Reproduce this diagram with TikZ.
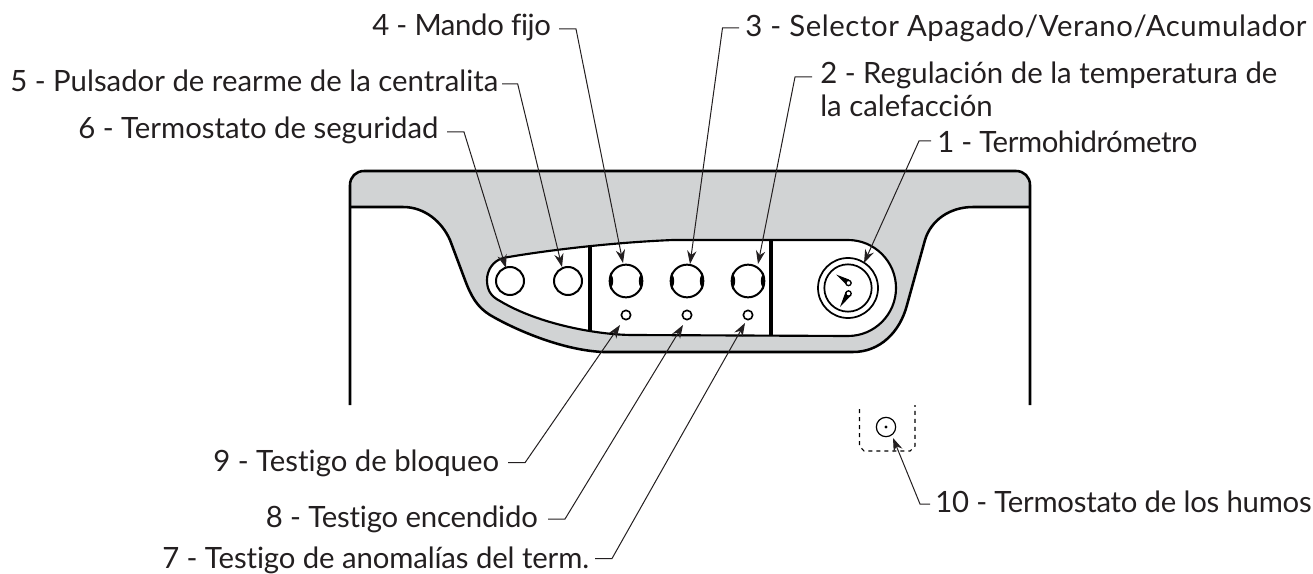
\documentclass[tikz,border=0pt]{standalone}
\usepackage{fontspec}
\setmainfont{Lato}[Ligatures=NoCommon]
\usetikzlibrary{arrows.meta,calc}
\definecolor{ink}{HTML}{231F20}
\definecolor{band}{HTML}{D1D3D4}
\newcommand{\labfont}[1]{\fontsize{22}{24.75}\selectfont\addfontfeature{LetterSpace=#1}}
\tikzset{
 x=0.75pt,y=-0.75pt,
 lab/.style={anchor=base west,inner sep=0pt,text=ink,font=\labfont{#1},align=left},
 lab/.default=0,
 lead/.style={draw=ink,line width=0.75pt,-{Stealth[length=10pt,width=7pt]}},
 heavy/.style={draw=black,line width=1.9pt},
 outline/.style={draw=black,line width=1.6pt},
 divider/.style={draw=black,line width=2.6pt},
 btn/.style={circle,draw=black,line width=1.5pt,fill=white,inner sep=0pt,minimum size=21pt},
 knob/.style={circle,draw=black,line width=1.5pt,fill=white,inner sep=0pt,minimum size=24.5pt},
 led/.style={circle,draw=black,line width=1.2pt,fill=white,inner sep=0pt,minimum size=7pt},
}
\newcommand{\lensmark}[1]{%
 \draw[black,line width=.7pt,fill=black] ($(#1)+(-15.5,-7)$) .. controls ($(#1)+(-12.5,-3)$) and ($(#1)+(-12.5,3)$) .. ($(#1)+(-15.5,7)$) .. controls ($(#1)+(-16.5,3)$) and ($(#1)+(-16.5,-3)$) .. cycle;
 \draw[black,line width=.7pt,fill=black] ($(#1)+(15.5,-7)$) .. controls ($(#1)+(12.5,-3)$) and ($(#1)+(12.5,3)$) .. ($(#1)+(15.5,7)$) .. controls ($(#1)+(16.5,3)$) and ($(#1)+(16.5,-3)$) .. cycle;
}
\begin{document}
\begin{tikzpicture}
\useasboundingbox (0,0) rectangle (1313,574);
% grey band
\path[fill=band] (350,207) -- (350,185) .. controls (350,177) and (356,171) .. (364,171) -- (1016,171) .. controls (1024,171) and (1030,177) .. (1030,185) -- (1030,207) -- (973,207)
 .. controls (950,207) and (931,220) .. (925,240) -- (907,305) .. controls (900,332) and (880,352) .. (853,352) -- (603,352)
 .. controls (560,350) and (512,328) .. (490,315) .. controls (477,307) and (471,296) .. (465,280) -- (450,240) .. controls (442,222) and (425,207) .. (403,207) -- cycle;
% body outline
\draw[heavy,line cap=butt] (350,405) -- (350,185) .. controls (350,177) and (356,171) .. (364,171) -- (1016,171) .. controls (1024,171) and (1030,177) .. (1030,185) -- (1030,405);
\draw[heavy] (350,207) -- (403,207) .. controls (425,207) and (442,222) .. (450,240) -- (465,280) .. controls (471,296) and (477,307) .. (490,315)
 .. controls (512,328) and (560,350) .. (603,352) -- (853,352) .. controls (880,352) and (900,332) .. (907,305) -- (925,240) .. controls (931,220) and (950,207) .. (973,207) -- (1030,207);
% panel
\draw[outline,fill=white] (503,258) .. controls (530,253) and (600,243) .. (673,240) -- (848,240) arc[start angle=-90,end angle=90,radius=48] -- (633,335)
 .. controls (600,335) and (540,325) .. (500,301) .. controls (490,296) and (487,289) .. (487,280) .. controls (487,270) and (493,261) .. (503,258) -- cycle;
\draw[divider] (590,246) -- (590,332);
\draw[divider] (771,240) -- (771,335);
% controls
\node[btn] (b6) at (510,281) {};
\node[btn] (b5) at (568,281) {};
\node[knob] (k4) at (626,281) {};
\node[knob] (k3) at (687,281) {};
\node[knob] (k2) at (748,281) {};
\lensmark{k4}\lensmark{k3}\lensmark{k2}
\node[led] (l9) at (626,315) {};
\node[led] (l8) at (687,315) {};
\node[led] (l7) at (748,315) {};
% gauge
\node[circle,draw=black,line width=1.3pt,fill=white,inner sep=0pt,minimum size=45pt] (g) at (848,288) {};
\node[circle,draw=black,line width=1.3pt,fill=white,inner sep=0pt,minimum size=35.5pt] (gi) at (848,288) {};
\fill[black] (836,274.5) -- (846,284.5) -- (849,279.5) -- cycle;
\fill[black] (840,307) -- (845.5,292) -- (851.5,295) -- cycle;
\node[circle,draw=black,line width=1pt,fill=white,inner sep=0pt,minimum size=4pt] (p1) at (848.5,283) {};
\node[circle,draw=black,line width=1pt,fill=white,inner sep=0pt,minimum size=4pt] (p2) at (848.5,293.5) {};
% flue thermostat
\draw[black,line width=0.8pt,dash pattern=on 3pt off 3pt] (859.5,409) -- (859.5,446) -- (864,451) -- (910,451) -- (915,446) -- (915,405);
\node[circle,draw=black,line width=0.9pt,inner sep=0pt,minimum size=14.5pt] (t10) at (886,427) {};
\fill[black] (t10.center) circle[radius=1.6];
% labels
\node[lab=-1.45] (n1) at (937,153) {1 - Termohidrómetro};
\node[lab] (n2) at (820,117) {2 - Regulación de la temperatura de\\la calefacción};
\node[lab=2] (n3) at (745,36.5) {3 - Selector Apagado/Verano/Acumulador};
\node[lab=-1.2] (n4) at (372,35.5) {4 - Mando fijo};
\node[lab] (n5) at (10,92) {5 - Pulsador de rearme de la centralita};
\node[lab] (n6) at (78,139) {6 - Termostato de seguridad};
\node[lab=-0.4] (n7) at (162,568) {7 - Testigo de anomalías del term.};
\node[lab=-0.7] (n8) at (265.5,527.5) {8 - Testigo encendido};
\node[lab] (n9) at (213,471) {9 - Testigo de bloqueo};
\node[lab=-0.9] (n10) at (935,512) {10 - Termostato de los humos};
% leader elbows
\coordinate (a1) at (931,141); \coordinate (e1) at (919,141);
\coordinate (a2) at (812,77);  \coordinate (e2) at (795,77);
\coordinate (a3) at (739,28);  \coordinate (e3) at (722.5,28);
\coordinate (a4) at (559,29);  \coordinate (e4) at (576,29);
\coordinate (a5) at (502,84);  \coordinate (e5) at (517.7,84);
\coordinate (a6) at (447,132); \coordinate (e6) at (464,132);
\coordinate (a7) at (595,558.5); \coordinate (e7) at (612,558.5);
\coordinate (a8) at (548,519); \coordinate (e8) at (565,519);
\coordinate (a9) at (508,462.7); \coordinate (e9) at (525,462.7);
\coordinate (a10) at (930,504); \coordinate (e10) at (920,504);
\coordinate (c1) at (864,263);
\coordinate (c2) at (758,264);
\coordinate (c3) at (690,264);
\coordinate (c4) at (623,263);
\coordinate (c5) at (562,267);
\coordinate (c6) at (506,268);
\coordinate (c7) at (745,323);
\coordinate (c8) at (683,325);
\coordinate (c9) at (620,325);
\coordinate (c10) at (893,438);
\foreach \i in {1,...,10} \draw[lead] (a\i) -- (e\i) -- (c\i);
\end{tikzpicture}
\end{document}
